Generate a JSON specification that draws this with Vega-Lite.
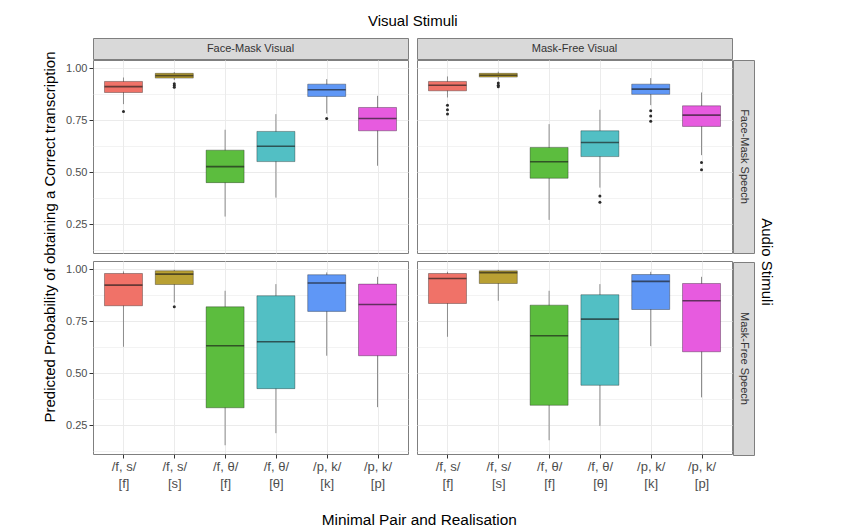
{
  "$schema": "https://vega.github.io/schema/vega-lite/v6.json",
  "background": "white",
  "padding": {"left": 43, "top": 13, "right": 5, "bottom": 0},
  "config": {
    "font": "Liberation Sans",
    "view": {"stroke": "#7f7f7f", "strokeWidth": 1},
    "axis": {"gridColor": "#ebebeb", "domain": false, "tickColor": "#333333", "labelColor": "#4d4d4d"},
    "title": {"fontWeight": "normal", "color": "#000000"}
  },
  "datasets": {
    "box": [
      {"v": "FM", "s": "FM", "c": "/f, s/|[f]", "lo": 0.827, "q1": 0.883, "med": 0.911, "q3": 0.936, "hi": 0.955},
      {"v": "FM", "s": "FM", "c": "/f, s/|[s]", "lo": 0.943, "q1": 0.952, "med": 0.964, "q3": 0.975, "hi": 0.981},
      {"v": "FM", "s": "FM", "c": "/f, θ/|[f]", "lo": 0.287, "q1": 0.45, "med": 0.527, "q3": 0.606, "hi": 0.704},
      {"v": "FM", "s": "FM", "c": "/f, θ/|[θ]", "lo": 0.378, "q1": 0.551, "med": 0.625, "q3": 0.696, "hi": 0.779},
      {"v": "FM", "s": "FM", "c": "/p, k/|[k]", "lo": 0.782, "q1": 0.864, "med": 0.896, "q3": 0.923, "hi": 0.947},
      {"v": "FM", "s": "FM", "c": "/p, k/|[p]", "lo": 0.531, "q1": 0.699, "med": 0.758, "q3": 0.811, "hi": 0.867},
      {"v": "FM", "s": "FM", "c": "/f, s/|[f]", "out": 0.792},
      {"v": "FM", "s": "FM", "c": "/f, s/|[s]", "out": 0.925},
      {"v": "FM", "s": "FM", "c": "/f, s/|[s]", "out": 0.916},
      {"v": "FM", "s": "FM", "c": "/f, s/|[s]", "out": 0.908},
      {"v": "FM", "s": "FM", "c": "/p, k/|[k]", "out": 0.758},

      {"v": "MF", "s": "FM", "c": "/f, s/|[f]", "lo": 0.859, "q1": 0.891, "med": 0.918, "q3": 0.936, "hi": 0.96},
      {"v": "MF", "s": "FM", "c": "/f, s/|[s]", "lo": 0.945, "q1": 0.957, "med": 0.966, "q3": 0.975, "hi": 0.983},
      {"v": "MF", "s": "FM", "c": "/f, θ/|[f]", "lo": 0.271, "q1": 0.471, "med": 0.55, "q3": 0.619, "hi": 0.731},
      {"v": "MF", "s": "FM", "c": "/f, θ/|[θ]", "lo": 0.426, "q1": 0.575, "med": 0.643, "q3": 0.699, "hi": 0.8},
      {"v": "MF", "s": "FM", "c": "/p, k/|[k]", "lo": 0.822, "q1": 0.874, "med": 0.899, "q3": 0.923, "hi": 0.952},
      {"v": "MF", "s": "FM", "c": "/p, k/|[p]", "lo": 0.582, "q1": 0.72, "med": 0.774, "q3": 0.819, "hi": 0.883},
      {"v": "MF", "s": "FM", "c": "/f, s/|[f]", "out": 0.822},
      {"v": "MF", "s": "FM", "c": "/f, s/|[f]", "out": 0.8},
      {"v": "MF", "s": "FM", "c": "/f, s/|[f]", "out": 0.78},
      {"v": "MF", "s": "FM", "c": "/f, s/|[s]", "out": 0.928},
      {"v": "MF", "s": "FM", "c": "/f, s/|[s]", "out": 0.918},
      {"v": "MF", "s": "FM", "c": "/f, s/|[s]", "out": 0.91},
      {"v": "MF", "s": "FM", "c": "/f, θ/|[θ]", "out": 0.386},
      {"v": "MF", "s": "FM", "c": "/f, θ/|[θ]", "out": 0.356},
      {"v": "MF", "s": "FM", "c": "/p, k/|[k]", "out": 0.795},
      {"v": "MF", "s": "FM", "c": "/p, k/|[k]", "out": 0.77},
      {"v": "MF", "s": "FM", "c": "/p, k/|[k]", "out": 0.745},
      {"v": "MF", "s": "FM", "c": "/p, k/|[p]", "out": 0.547},
      {"v": "MF", "s": "FM", "c": "/p, k/|[p]", "out": 0.512},

      {"v": "FM", "s": "MF", "c": "/f, s/|[f]", "lo": 0.627, "q1": 0.824, "med": 0.923, "q3": 0.979, "hi": 0.989},
      {"v": "FM", "s": "MF", "c": "/f, s/|[s]", "lo": 0.84, "q1": 0.926, "med": 0.976, "q3": 0.992, "hi": 0.997},
      {"v": "FM", "s": "MF", "c": "/f, θ/|[f]", "lo": 0.154, "q1": 0.334, "med": 0.632, "q3": 0.819, "hi": 0.896},
      {"v": "FM", "s": "MF", "c": "/f, θ/|[θ]", "lo": 0.212, "q1": 0.426, "med": 0.651, "q3": 0.872, "hi": 0.928},
      {"v": "FM", "s": "MF", "c": "/p, k/|[k]", "lo": 0.584, "q1": 0.797, "med": 0.933, "q3": 0.973, "hi": 0.984},
      {"v": "FM", "s": "MF", "c": "/p, k/|[p]", "lo": 0.337, "q1": 0.584, "med": 0.83, "q3": 0.928, "hi": 0.963},
      {"v": "FM", "s": "MF", "c": "/f, s/|[s]", "out": 0.819},

      {"v": "MF", "s": "MF", "c": "/f, s/|[f]", "lo": 0.675, "q1": 0.835, "med": 0.955, "q3": 0.979, "hi": 0.987},
      {"v": "MF", "s": "MF", "c": "/f, s/|[s]", "lo": 0.848, "q1": 0.931, "med": 0.983, "q3": 0.992, "hi": 0.997},
      {"v": "MF", "s": "MF", "c": "/f, θ/|[f]", "lo": 0.178, "q1": 0.346, "med": 0.68, "q3": 0.827, "hi": 0.896},
      {"v": "MF", "s": "MF", "c": "/f, θ/|[θ]", "lo": 0.247, "q1": 0.442, "med": 0.76, "q3": 0.877, "hi": 0.928},
      {"v": "MF", "s": "MF", "c": "/p, k/|[k]", "lo": 0.63, "q1": 0.806, "med": 0.941, "q3": 0.974, "hi": 0.987},
      {"v": "MF", "s": "MF", "c": "/p, k/|[p]", "lo": 0.384, "q1": 0.603, "med": 0.848, "q3": 0.931, "hi": 0.963}
    ]
  },
  "title": {"text": "Minimal Pair and Realisation", "orient": "bottom", "anchor": "middle", "fontSize": 15.4, "offset": 22, "dx": 11},
  "vconcat": [{
    "title": {"text": "Audio Stimuli", "orient": "right", "anchor": "middle", "fontSize": 15, "offset": 4, "dx": 10},
    "vconcat": [{
      "title": {"text": "Predicted Probability of obtaining a Correct transcription", "orient": "left", "anchor": "middle", "fontSize": 15, "offset": 7, "dx": 15},
      "vconcat": [{
        "title": {"text": "Visual Stimuli", "orient": "top", "anchor": "middle", "fontSize": 15, "offset": 9, "dx": 3},
        "spacing": -3,
        "vconcat": [
          {
            "spacing": 7,
            "hconcat": [
              {"width": 315, "height": 21, "data": {"values": [{"t": "Face-Mask Visual"}]}, "view": {"fill": "#d9d9d9", "stroke": "#7f7f7f"}, "mark": {"type": "text", "fontSize": 11, "color": "#333333"}, "encoding": {"text": {"field": "t"}}},
              {"width": 315, "height": 21, "data": {"values": [{"t": "Mask-Free Visual"}]}, "view": {"fill": "#d9d9d9", "stroke": "#7f7f7f"}, "mark": {"type": "text", "fontSize": 11, "color": "#333333"}, "encoding": {"text": {"field": "t"}}}
            ]
          },
          {
            "spacing": -3,
            "hconcat": [
              {
                "spacing": 6,
                "vconcat": [
                  {
                    "spacing": 7,
                    "hconcat": [
                      {
                        "width": 315, "height": 193,
                        "data": {"name": "box"},
                        "transform": [{"filter": "datum.v == 'FM' && datum.s == 'FM'"}],
                        "encoding": {"x": {"field": "c", "type": "ordinal", "scale": {"type": "point", "padding": 0.6, "domain": ["/f, s/|[f]", "/f, s/|[s]", "/f, θ/|[f]", "/f, θ/|[θ]", "/p, k/|[k]", "/p, k/|[p]"]}, "axis": {"title": null, "labels": false, "ticks": false, "domain": false, "grid": true}}},
                        "resolve": {"axis": {"y": "independent"}},
                        "layer": [
                          {"transform": [{"filter": "isValid(datum.q1)"}], "mark": {"type": "rule", "color": "#8c8c8c", "strokeWidth": 1}, "encoding": {"y": {"field": "lo", "type": "quantitative", "scale": {"domain": [0.112, 1.039], "nice": false, "zero": false}, "axis": {"title": null, "values": [0.25, 0.5, 0.75, 1], "format": ".2f", "tickSize": 4, "labelFontSize": 11, "labelPadding": 2, "gridWidth": 1.1}}, "y2": {"field": "hi"}}},
                          {"transform": [{"filter": "isValid(datum.q1)"}], "mark": {"type": "bar", "size": 38, "stroke": "#000000", "strokeOpacity": 0.4, "strokeWidth": 0.8}, "encoding": {"y": {"field": "q1", "type": "quantitative", "axis": null}, "y2": {"field": "q3"}, "color": {"field": "c", "type": "nominal", "scale": {"domain": ["/f, s/|[f]", "/f, s/|[s]", "/f, θ/|[f]", "/f, θ/|[θ]", "/p, k/|[k]", "/p, k/|[p]"], "range": ["#F07268", "#B9A033", "#5CBD3E", "#52BFC4", "#5F97F6", "#E75BDF"]}, "legend": null}}},
                          {"transform": [{"filter": "isValid(datum.q1)"}], "mark": {"type": "tick", "size": 38, "thickness": 1.6, "color": "#1a1a1a", "opacity": 0.65}, "encoding": {"y": {"field": "med", "type": "quantitative", "axis": null}}},
                          {"transform": [{"filter": "isValid(datum.out)"}], "mark": {"type": "circle", "size": 9, "color": "#2b2b2b", "opacity": 1}, "encoding": {"y": {"field": "out", "type": "quantitative", "axis": {"title": null, "values": [0.125, 0.375, 0.625, 0.875], "labels": false, "ticks": false, "domain": false, "grid": true, "gridWidth": 0.6}}}}
                        ]
                      },
                      {
                        "width": 315, "height": 193,
                        "data": {"name": "box"},
                        "transform": [{"filter": "datum.v == 'MF' && datum.s == 'FM'"}],
                        "encoding": {"x": {"field": "c", "type": "ordinal", "scale": {"type": "point", "padding": 0.6, "domain": ["/f, s/|[f]", "/f, s/|[s]", "/f, θ/|[f]", "/f, θ/|[θ]", "/p, k/|[k]", "/p, k/|[p]"]}, "axis": {"title": null, "labels": false, "ticks": false, "domain": false, "grid": true}}},
                        "resolve": {"axis": {"y": "independent"}},
                        "layer": [
                          {"transform": [{"filter": "isValid(datum.q1)"}], "mark": {"type": "rule", "color": "#8c8c8c", "strokeWidth": 1}, "encoding": {"y": {"field": "lo", "type": "quantitative", "scale": {"domain": [0.112, 1.039], "nice": false, "zero": false}, "axis": {"title": null, "values": [0.25, 0.5, 0.75, 1], "labels": false, "ticks": false, "gridWidth": 1.1}}, "y2": {"field": "hi"}}},
                          {"transform": [{"filter": "isValid(datum.q1)"}], "mark": {"type": "bar", "size": 38, "stroke": "#000000", "strokeOpacity": 0.4, "strokeWidth": 0.8}, "encoding": {"y": {"field": "q1", "type": "quantitative", "axis": null}, "y2": {"field": "q3"}, "color": {"field": "c", "type": "nominal", "scale": {"domain": ["/f, s/|[f]", "/f, s/|[s]", "/f, θ/|[f]", "/f, θ/|[θ]", "/p, k/|[k]", "/p, k/|[p]"], "range": ["#F07268", "#B9A033", "#5CBD3E", "#52BFC4", "#5F97F6", "#E75BDF"]}, "legend": null}}},
                          {"transform": [{"filter": "isValid(datum.q1)"}], "mark": {"type": "tick", "size": 38, "thickness": 1.6, "color": "#1a1a1a", "opacity": 0.65}, "encoding": {"y": {"field": "med", "type": "quantitative", "axis": null}}},
                          {"transform": [{"filter": "isValid(datum.out)"}], "mark": {"type": "circle", "size": 9, "color": "#2b2b2b", "opacity": 1}, "encoding": {"y": {"field": "out", "type": "quantitative", "axis": {"title": null, "values": [0.125, 0.375, 0.625, 0.875], "labels": false, "ticks": false, "domain": false, "grid": true, "gridWidth": 0.6}}}}
                        ]
                      }
                    ]
                  },
                  {
                    "spacing": 7,
                    "hconcat": [
                      {
                        "width": 315, "height": 193,
                        "data": {"name": "box"},
                        "transform": [{"filter": "datum.v == 'FM' && datum.s == 'MF'"}],
                        "encoding": {"x": {"field": "c", "type": "ordinal", "scale": {"type": "point", "padding": 0.6, "domain": ["/f, s/|[f]", "/f, s/|[s]", "/f, θ/|[f]", "/f, θ/|[θ]", "/p, k/|[k]", "/p, k/|[p]"]}, "axis": {"title": null, "labelExpr": "split(datum.label, '|')", "labelAngle": 0, "grid": true, "tickSize": 4, "labelFontSize": 13, "labelLineHeight": 17, "labelPadding": 2, "labelBaseline": "top", "labelColor": "#4d4d4d"}}},
                        "resolve": {"axis": {"y": "independent"}},
                        "layer": [
                          {"transform": [{"filter": "isValid(datum.q1)"}], "mark": {"type": "rule", "color": "#8c8c8c", "strokeWidth": 1}, "encoding": {"y": {"field": "lo", "type": "quantitative", "scale": {"domain": [0.112, 1.039], "nice": false, "zero": false}, "axis": {"title": null, "values": [0.25, 0.5, 0.75, 1], "format": ".2f", "tickSize": 4, "labelFontSize": 11, "labelPadding": 2, "gridWidth": 1.1}}, "y2": {"field": "hi"}}},
                          {"transform": [{"filter": "isValid(datum.q1)"}], "mark": {"type": "bar", "size": 38, "stroke": "#000000", "strokeOpacity": 0.4, "strokeWidth": 0.8}, "encoding": {"y": {"field": "q1", "type": "quantitative", "axis": null}, "y2": {"field": "q3"}, "color": {"field": "c", "type": "nominal", "scale": {"domain": ["/f, s/|[f]", "/f, s/|[s]", "/f, θ/|[f]", "/f, θ/|[θ]", "/p, k/|[k]", "/p, k/|[p]"], "range": ["#F07268", "#B9A033", "#5CBD3E", "#52BFC4", "#5F97F6", "#E75BDF"]}, "legend": null}}},
                          {"transform": [{"filter": "isValid(datum.q1)"}], "mark": {"type": "tick", "size": 38, "thickness": 1.6, "color": "#1a1a1a", "opacity": 0.65}, "encoding": {"y": {"field": "med", "type": "quantitative", "axis": null}}},
                          {"transform": [{"filter": "isValid(datum.out)"}], "mark": {"type": "circle", "size": 9, "color": "#2b2b2b", "opacity": 1}, "encoding": {"y": {"field": "out", "type": "quantitative", "axis": {"title": null, "values": [0.125, 0.375, 0.625, 0.875], "labels": false, "ticks": false, "domain": false, "grid": true, "gridWidth": 0.6}}}}
                        ]
                      },
                      {
                        "width": 315, "height": 193,
                        "data": {"name": "box"},
                        "transform": [{"filter": "datum.v == 'MF' && datum.s == 'MF'"}],
                        "encoding": {"x": {"field": "c", "type": "ordinal", "scale": {"type": "point", "padding": 0.6, "domain": ["/f, s/|[f]", "/f, s/|[s]", "/f, θ/|[f]", "/f, θ/|[θ]", "/p, k/|[k]", "/p, k/|[p]"]}, "axis": {"title": null, "labelExpr": "split(datum.label, '|')", "labelAngle": 0, "grid": true, "tickSize": 4, "labelFontSize": 13, "labelLineHeight": 17, "labelPadding": 2, "labelBaseline": "top", "labelColor": "#4d4d4d"}}},
                        "resolve": {"axis": {"y": "independent"}},
                        "layer": [
                          {"transform": [{"filter": "isValid(datum.q1)"}], "mark": {"type": "rule", "color": "#8c8c8c", "strokeWidth": 1}, "encoding": {"y": {"field": "lo", "type": "quantitative", "scale": {"domain": [0.112, 1.039], "nice": false, "zero": false}, "axis": {"title": null, "values": [0.25, 0.5, 0.75, 1], "labels": false, "ticks": false, "gridWidth": 1.1}}, "y2": {"field": "hi"}}},
                          {"transform": [{"filter": "isValid(datum.q1)"}], "mark": {"type": "bar", "size": 38, "stroke": "#000000", "strokeOpacity": 0.4, "strokeWidth": 0.8}, "encoding": {"y": {"field": "q1", "type": "quantitative", "axis": null}, "y2": {"field": "q3"}, "color": {"field": "c", "type": "nominal", "scale": {"domain": ["/f, s/|[f]", "/f, s/|[s]", "/f, θ/|[f]", "/f, θ/|[θ]", "/p, k/|[k]", "/p, k/|[p]"], "range": ["#F07268", "#B9A033", "#5CBD3E", "#52BFC4", "#5F97F6", "#E75BDF"]}, "legend": null}}},
                          {"transform": [{"filter": "isValid(datum.q1)"}], "mark": {"type": "tick", "size": 38, "thickness": 1.6, "color": "#1a1a1a", "opacity": 0.65}, "encoding": {"y": {"field": "med", "type": "quantitative", "axis": null}}},
                          {"transform": [{"filter": "isValid(datum.out)"}], "mark": {"type": "circle", "size": 9, "color": "#2b2b2b", "opacity": 1}, "encoding": {"y": {"field": "out", "type": "quantitative", "axis": {"title": null, "values": [0.125, 0.375, 0.625, 0.875], "labels": false, "ticks": false, "domain": false, "grid": true, "gridWidth": 0.6}}}}
                        ]
                      }
                    ]
                  }
                ]
              },
              {
                "spacing": 7,
                "vconcat": [
                  {"width": 21, "height": 193, "data": {"values": [{"t": "Face-Mask Speech"}]}, "view": {"fill": "#d9d9d9", "stroke": "#7f7f7f"}, "mark": {"type": "text", "fontSize": 11, "color": "#333333", "angle": 90}, "encoding": {"text": {"field": "t"}}},
                  {"width": 21, "height": 193, "data": {"values": [{"t": "Mask-Free Speech"}]}, "view": {"fill": "#d9d9d9", "stroke": "#7f7f7f"}, "mark": {"type": "text", "fontSize": 11, "color": "#333333", "angle": 90}, "encoding": {"text": {"field": "t"}}}
                ]
              }
            ]
          }
        ]
      }]
    }]
  }]
}
